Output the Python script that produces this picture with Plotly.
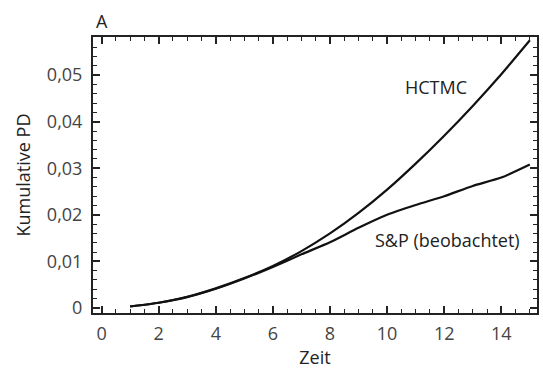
import plotly.graph_objects as go

# Time axis (years) and cumulative default probabilities
zeit = list(range(1, 16))
hctmc = [0.0003, 0.0011, 0.0024, 0.0042, 0.0064, 0.0090, 0.0122, 0.0160,
         0.0204, 0.0254, 0.0310, 0.0370, 0.0434, 0.0502, 0.0575]
sp_beobachtet = [0.0003, 0.0011, 0.0023, 0.0041, 0.0063, 0.0088, 0.0115, 0.0141,
                 0.0172, 0.0200, 0.0221, 0.0240, 0.0262, 0.0280, 0.0308]

x_ticks = [0, 2, 4, 6, 8, 10, 12, 14]
y_ticks = [0, 0.01, 0.02, 0.03, 0.04, 0.05]
y_ticktext = ["0", "0,01", "0,02", "0,03", "0,04", "0,05"]

x_range = [-0.3, 15.25]
y_range = [-0.0011, 0.0582]

font_family = "Open Sans"
ink = "#222222"
line_style = dict(color="#111111", width=2.2, shape="spline", smoothing=0.6)

fig = go.Figure()
fig.add_trace(go.Scatter(x=zeit, y=hctmc, mode="lines", line=line_style, name="HCTMC"))
fig.add_trace(go.Scatter(x=zeit, y=sp_beobachtet, mode="lines", line=line_style,
                         name="S&P (beobachtet)"))
# invisible trace so the top/right tick axes are drawn
fig.add_trace(go.Scatter(x=[x_range[0]], y=[y_range[0]], xaxis="x2", yaxis="y2",
                         mode="markers", marker=dict(opacity=0), hoverinfo="skip"))

fig.add_annotation(x=11.7, y=0.0475, text="HCTMC", showarrow=False,
                   font=dict(size=18, color=ink, family=font_family))
fig.add_annotation(x=12.1, y=0.0145, text="S&P (beobachtet)", showarrow=False,
                   font=dict(size=18, color=ink, family=font_family))
fig.add_annotation(x=0, y=1, xref="paper", yref="paper", xanchor="left", yanchor="bottom",
                   xshift=1, yshift=2, text="A", showarrow=False,
                   font=dict(size=18, color=ink, family=font_family))

tick_common = dict(
    ticks="inside", ticklen=7, tickwidth=1.6, tickcolor=ink,
    showgrid=False, zeroline=False,
)
x_minor = dict(ticks="inside", dtick=0.5, ticklen=4, tickwidth=1.4, tickcolor=ink)
y_minor = dict(ticks="inside", dtick=0.002, ticklen=4, tickwidth=1.4, tickcolor=ink)
tick_font = dict(size=18, color="#444444", family=font_family)
title_font = dict(size=18, color=ink, family=font_family)

fig.update_layout(
    xaxis=dict(
        range=x_range, tickvals=x_ticks, minor=x_minor,
        showline=True, linecolor=ink, linewidth=2, mirror=True,
        tickfont=tick_font, ticklabelstandoff=3,
        title=dict(text="Zeit", font=title_font, standoff=4),
        **tick_common,
    ),
    yaxis=dict(
        range=y_range, tickvals=y_ticks, ticktext=y_ticktext, minor=y_minor,
        showline=True, linecolor=ink, linewidth=2, mirror=True,
        tickfont=tick_font, ticklabelstandoff=5,
        title=dict(text="Kumulative PD", font=title_font, standoff=12),
        **tick_common,
    ),
    xaxis2=dict(
        range=x_range, tickvals=x_ticks, minor=x_minor, overlaying="x", side="top",
        anchor="y", showticklabels=False, showline=False, **tick_common,
    ),
    yaxis2=dict(
        range=y_range, tickvals=y_ticks, minor=y_minor, overlaying="y", side="right",
        anchor="x", showticklabels=False, showline=False, **tick_common,
    ),
    width=543, height=373,
    margin=dict(l=93, r=4, t=37, b=60),
    plot_bgcolor="white", paper_bgcolor="white",
    showlegend=False,
)

fig.write_html("out.html")
